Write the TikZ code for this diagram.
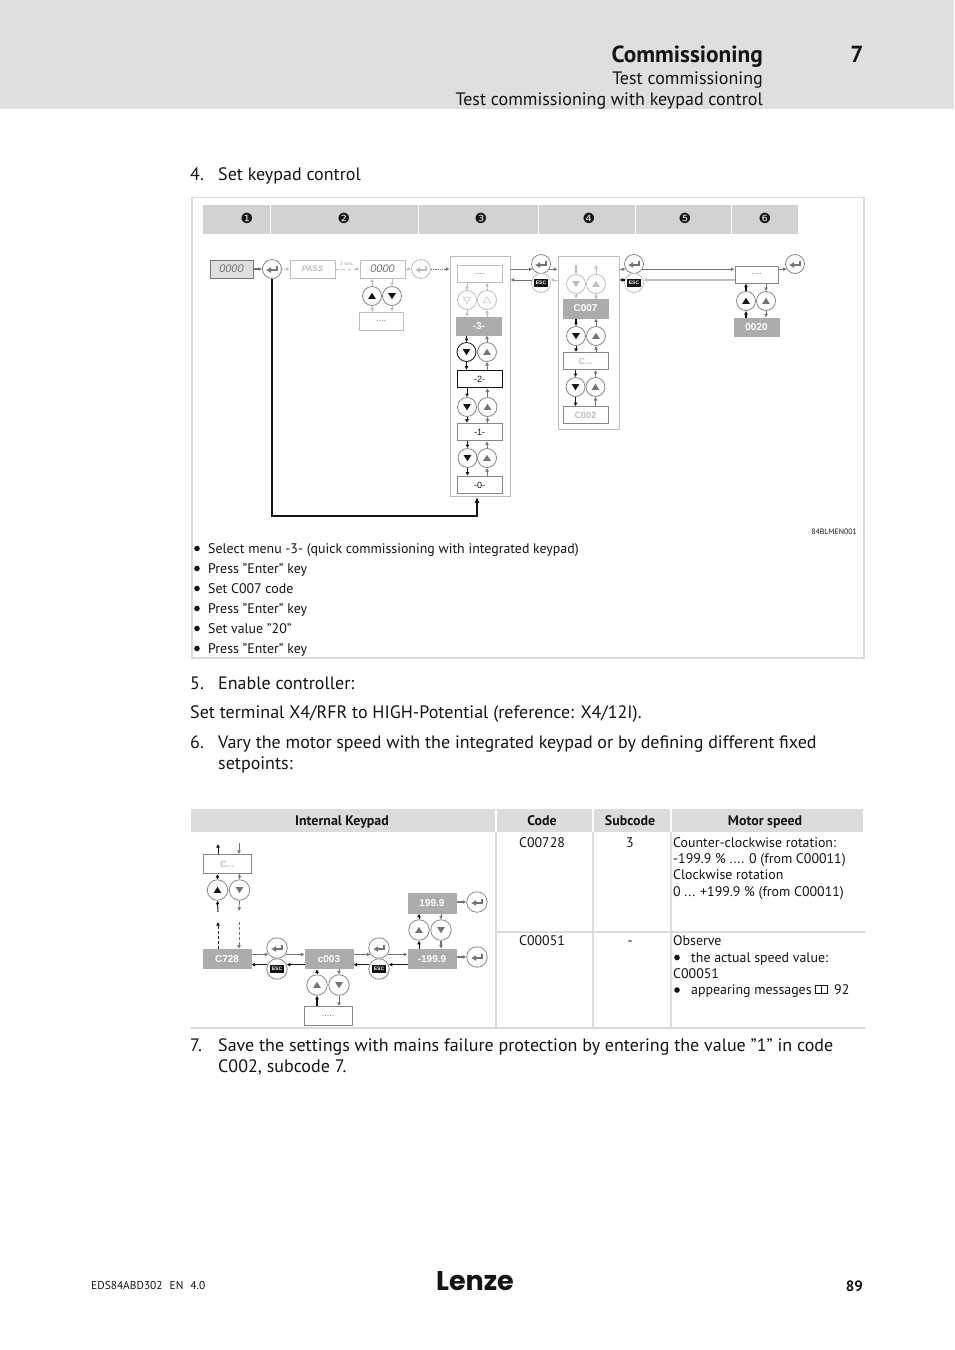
\documentclass[tikz,border=0pt]{standalone}
\usepackage{fontspec}
\setmainfont{PT Sans}
\newfontfamily\diagfont{Liberation Sans}
\newfontfamily\symfont{DejaVu Sans}
\newfontfamily\logofont{Poppins}
\usetikzlibrary{arrows.meta,calc}
\definecolor{ink}{RGB}{20,20,20}
\definecolor{bandgray}{RGB}{223,223,223}
\definecolor{cellgray}{RGB}{208,210,212}
\definecolor{rulegray}{RGB}{220,220,220}
\definecolor{keyline}{RGB}{135,135,135}
\definecolor{fadeline}{RGB}{190,190,190}
\definecolor{valuefill}{RGB}{172,172,172}
\definecolor{arrowgray}{RGB}{115,115,115}

\begin{document}
\begin{tikzpicture}[
  x=1pt,y=-1pt,
  font=\fontsize{18}{20}\selectfont,
  bodytext/.style={anchor=base west, text=ink, inner sep=0pt},
  headtext/.style={anchor=base east, text=ink, inner sep=0pt},
  smalltext/.style={anchor=base west, text=ink, inner sep=0pt,
                    font=\fontsize{13.9}{15}\selectfont},
  celltext/.style={anchor=base, text=ink, inner sep=0pt,
                   font=\fontsize{13.9}{15}\selectfont},
  headcell/.style={anchor=base, text=ink, inner sep=0pt,
                   font=\fontsize{13.9}{15}\bfseries\selectfont},
  dotmark/.style={circle, fill=ink, minimum size=5.6pt, inner sep=0pt},
  stepmark/.style={font=\symfont\fontsize{14}{15}\selectfont, text=ink},
  panelbox/.style={draw=fadeline, line width=1pt},
  showbox/.style={draw=fadeline, line width=1pt, fill=white, inner sep=0pt,
                  minimum width=45pt, minimum height=17.5pt, text=arrowgray,
                  font=\diagfont\fontsize{9}{10}\selectfont},
  showlarge/.style={showbox, minimum width=48pt, minimum height=19pt},
  valuebox/.style={showbox, draw=valuefill, fill=valuefill, text=white,
                   font=\diagfont\fontsize{10}{11}\bfseries\selectfont},
  valuelarge/.style={valuebox, minimum width=48pt, minimum height=19.5pt},
  keybase/.style={circle, draw=keyline, fill=white, line width=0.8pt,
                  minimum size=19pt, inner sep=0pt},
  keylarge/.style={minimum size=20.5pt},
  keyup/.style={keybase, path picture={
    \fill[#1] ([shift={(-3.8,2.8)}]path picture bounding box.center)
      -- ([shift={(3.8,2.8)}]path picture bounding box.center)
      -- ([shift={(0,-3.2)}]path picture bounding box.center) -- cycle;}},
  keydown/.style={keybase, path picture={
    \fill[#1] ([shift={(-3.8,-2.8)}]path picture bounding box.center)
      -- ([shift={(3.8,-2.8)}]path picture bounding box.center)
      -- ([shift={(0,3.2)}]path picture bounding box.center) -- cycle;}},
  keyupopen/.style={keybase, draw=fadeline, path picture={
    \draw[fadeline, line width=0.5pt]
      ([shift={(-3.8,2.8)}]path picture bounding box.center)
      -- ([shift={(3.8,2.8)}]path picture bounding box.center)
      -- ([shift={(0,-3.2)}]path picture bounding box.center) -- cycle;}},
  keydownopen/.style={keybase, draw=fadeline, path picture={
    \draw[fadeline, line width=0.5pt]
      ([shift={(-3.8,-2.8)}]path picture bounding box.center)
      -- ([shift={(3.8,-2.8)}]path picture bounding box.center)
      -- ([shift={(0,3.2)}]path picture bounding box.center) -- cycle;}},
  enterkey/.style={keybase, path picture={
    \draw[#1, line width=1.3pt, -{Latex[length=5pt,width=6pt]}]
      ([shift={(5,-3.5)}]path picture bounding box.center)
      -- ([shift={(5,1)}]path picture bounding box.center)
      -- ([shift={(-6,1)}]path picture bounding box.center);}},
  esckey/.style={keybase, draw=fadeline, text=white,
    font=\diagfont\fontsize{5}{6}\bfseries\selectfont, path picture={
    \fill[ink] ([shift={(-7,-3.6)}]path picture bounding box.center)
      rectangle ([shift={(7,3.6)}]path picture bounding box.center);}},
  flowblack/.style={-{Latex[length=3.6pt,width=4pt]}, draw=ink, line width=1pt},
  flowthick/.style={flowblack, line width=1.5pt},
  flowgray/.style={-{Latex[length=3.6pt,width=4pt]}, draw=arrowgray, line width=0.8pt},
  flowheavy/.style={flowgray, line width=1.5pt},
  flowfade/.style={-{Latex[length=3.6pt,width=4pt]}, draw=fadeline, line width=0.8pt},
  flowfadeheavy/.style={flowfade, line width=1.5pt},
  flowdot/.style={flowfade, densely dotted},
  flowdash/.style={flowfade, dashed}
]
\useasboundingbox (0,0) rectangle (954,1350);
\fill[white] (0,0) rectangle (954,1350);

% Page head
\fill[bandgray] (0,0) rectangle (954,109);
\node[headtext, font=\fontsize{23.3}{25}\bfseries\selectfont] (headTitle) at (763,62) {Commissioning};
\node[anchor=base, inner sep=0pt, text=ink, font=\fontsize{23.3}{25}\bfseries\selectfont] (headNum) at (857,62) {7};
\node[headtext] (headSub) at (763,84) {Test commissioning};
\node[headtext] (headSubSub) at (763,105) {Test commissioning with keypad control};

\node[bodytext] (stepFour) at (190,180) {4.};
\node[bodytext] (stepFourText) at (218,180) {Set keypad control};

% Frame of the first figure
\draw[rulegray, line width=1.5pt] (192,197.5) rectangle (864,658);
\fill[cellgray] (203,205) rectangle (270,234);
\fill[cellgray] (271,205) rectangle (418,234);
\fill[cellgray] (419,205) rectangle (538,234);
\fill[cellgray] (539,205) rectangle (635,234);
\fill[cellgray] (636,205) rectangle (731,234);
\fill[cellgray] (732,205) rectangle (798,234);
\node[stepmark] (markA) at (247,218) {❶};
\node[stepmark] (markB) at (344,218) {❷};
\node[stepmark] (markC) at (481,218) {❸};
\node[stepmark] (markD) at (589,218) {❹};
\node[stepmark] (markE) at (685,218) {❺};
\node[stepmark] (markF) at (765,218) {❻};

% Panels behind the keys
\node[panelbox, minimum width=60pt, minimum height=239.5pt, inner sep=0pt] (menuPanel) at (480,376.5) {};
\node[panelbox, minimum width=61pt, minimum height=172.5pt, inner sep=0pt] (codePanel) at (588.5,343) {};

% Password row
\node[showbox, draw=arrowgray, fill=bandgray, minimum width=43pt, minimum height=18pt,
      font=\diagfont\itshape\fontsize{11}{12}\selectfont] (dispStart) at (231.5,269) {0000};
\node[enterkey=arrowgray] (enterA) at (272,269) {};
\node[showbox, minimum height=18pt, text=fadeline, font=\diagfont\itshape\bfseries\fontsize{8}{9}\selectfont] (dispPass) at (312.5,269) {PASS};
\node[inner sep=0pt, text=fadeline, font=\diagfont\bfseries\fontsize{5}{6}\selectfont] (passTime) at (347,264) {2 sec.};
\node[showbox, minimum height=18pt, font=\diagfont\itshape\fontsize{11}{12}\selectfont] (dispCode) at (382.5,269) {0000};
\node[enterkey=fadeline, draw=fadeline] (enterFade) at (421,269) {};
\node[keyup=ink] (passUp) at (372,296) {};
\node[keydown=ink] (passDown) at (392,296) {};
\node[showbox, minimum width=44pt, minimum height=18pt] (passDots) at (381,321) {....};

\draw[flowheavy] (dispStart) -- (enterA);
\draw[flowdot] (enterA) -- (dispPass);
\draw[flowdash] (dispPass) -- (dispCode);
\draw[flowdot] (dispCode) -- (enterFade);
\draw[flowdot, draw=arrowgray] (enterFade) -- (enterFade -| menuPanel.west);
\draw[flowfade] (passUp.north) -- (passUp.north |- dispCode.south);
\draw[flowfade] (passDown.north |- dispCode.south) -- (passDown.north);
\draw[flowfade] (passUp.south |- passDots.north) -- (passUp.south);
\draw[flowfade] (passDown.south) -- (passDown.south |- passDots.north);

% Menu column
\node[showbox, minimum height=16.5pt] (menuDots) at (479.5,274) {....};
\node[keydownopen] (menuFadeDown) at (467,300) {};
\node[keyupopen] (menuFadeUp) at (487,300) {};
\node[valuebox, minimum height=18pt] (menuThree) at (479,326) {-3-};
\node[keydown=ink, draw=ink] (menuDownA) at (466.5,352) {};
\node[keyup=arrowgray] (menuUpA) at (487,352) {};
\node[showbox, draw=ink, text=ink] (menuTwo) at (479.5,379) {-2-};
\node[keydown=ink] (menuDownB) at (467,407) {};
\node[keyup=arrowgray] (menuUpB) at (487.5,407) {};
\node[showbox, draw=keyline, text=ink] (menuOne) at (479.5,432) {-1-};
\node[keydown=ink] (menuDownC) at (467.5,458) {};
\node[keyup=arrowgray] (menuUpC) at (487,458) {};
\node[showbox, draw=keyline, text=ink] (menuZero) at (479.5,485) {-0-};

\draw[flowfade] (menuFadeDown.north |- menuDots.south) -- (menuFadeDown.north);
\draw[flowfade] (menuFadeDown.south) -- (menuFadeDown.south |- menuThree.north);
\draw[flowfade] (menuFadeUp.north) -- (menuFadeUp.north |- menuDots.south);
\draw[flowfade] (menuFadeUp.south |- menuThree.north) -- (menuFadeUp.south);
\draw[flowthick] (menuDownA.north |- menuThree.south) -- (menuDownA.north);
\draw[flowthick] (menuDownA.south) -- (menuDownA.south |- menuTwo.north);
\draw[flowgray] (menuUpA.north) -- (menuUpA.north |- menuThree.south);
\draw[flowgray] (menuUpA.south |- menuTwo.north) -- (menuUpA.south);
\draw[flowblack] (menuDownB.north |- menuTwo.south) -- (menuDownB.north);
\draw[flowblack] (menuDownB.south) -- (menuDownB.south |- menuOne.north);
\draw[flowgray] (menuUpB.north) -- (menuUpB.north |- menuTwo.south);
\draw[flowgray] (menuUpB.south |- menuOne.north) -- (menuUpB.south);
\draw[flowblack] (menuDownC.north |- menuOne.south) -- (menuDownC.north);
\draw[flowblack] (menuDownC.south) -- (menuDownC.south |- menuZero.north);
\draw[flowgray] (menuUpC.north) -- (menuUpC.north |- menuOne.south);
\draw[flowgray] (menuUpC.south |- menuZero.north) -- (menuUpC.south);

% Return path to the bottom of the menu
\coordinate (loopCorner) at (477,516);
\draw[flowthick, line width=1.3pt, -{Latex[length=6pt,width=5pt]}] (enterA.south) |- (loopCorner) -- (loopCorner |- menuPanel.south);

% Code column
\node[enterkey=arrowgray] (enterB) at (541,264) {};
\node[esckey] (escB) at (541,283) {ESC};
\coordinate (codeFadeIn) at (576,265);
\coordinate (codeFadeOut) at (596,265);
\node[keydown=fadeline, draw=fadeline] (codeFadeDown) at (576,284) {};
\node[keyup=fadeline, draw=fadeline] (codeFadeUp) at (596,284) {};
\node[valuebox, minimum height=19pt] (codeSeven) at (585.5,308.5) {C007};
\node[keydown=ink] (codeDownA) at (576,336) {};
\node[keyup=arrowgray] (codeUpA) at (596,336) {};
\node[showbox, draw=keyline, minimum height=17pt, text=fadeline, font=\diagfont\fontsize{9}{10}\bfseries\selectfont] (codeDots) at (585.5,361) {C...};
\node[keydown=ink] (codeDownB) at (575.5,387) {};
\node[keyup=arrowgray] (codeUpB) at (595.5,387) {};
\node[showbox, draw=keyline, minimum height=16.5pt, text=fadeline, font=\diagfont\fontsize{9}{10}\bfseries\selectfont] (codeTwo) at (585.5,415) {C002};

\draw[flowfadeheavy] (codeFadeIn) -- (codeFadeDown.north);
\draw[flowfade] (codeFadeUp.north) -- (codeFadeOut);
\draw[flowfade] (codeFadeDown.south) -- (codeFadeDown.south |- codeSeven.north);
\draw[flowfade] (codeFadeUp.south |- codeSeven.north) -- (codeFadeUp.south);
\draw[flowthick] (codeDownA.north |- codeSeven.south) -- (codeDownA.north);
\draw[flowblack] (codeDownA.south) -- (codeDownA.south |- codeDots.north);
\draw[flowgray] (codeUpA.north) -- (codeUpA.north |- codeSeven.south);
\draw[flowgray] (codeUpA.south |- codeDots.north) -- (codeUpA.south);
\draw[flowblack] (codeDownB.north |- codeDots.south) -- (codeDownB.north);
\draw[flowblack] (codeDownB.south) -- (codeDownB.south |- codeTwo.north);
\draw[flowgray] (codeUpB.north) -- (codeUpB.north |- codeDots.south);
\draw[flowgray] (codeUpB.south |- codeTwo.north) -- (codeUpB.south);

\draw[flowheavy] (menuPanel.east |- enterB.212) -- (enterB.212);
\draw[flowheavy] (enterB.328) -- (enterB.328 -| codePanel.west);
\draw[flowfade] (codePanel.west |- escB.18) -- (escB.18);
\draw[flowgray, line width=0.6pt] (escB.162) -- (escB.162 -| menuPanel.east);

% Value column
\node[enterkey=arrowgray] (enterC) at (634,264) {};
\node[esckey] (escC) at (634,283) {ESC};
\node[showbox, draw=keyline, minimum width=43pt, minimum height=17pt] (valueDots) at (756.5,274.5) {....};
\node[enterkey=arrowgray] (enterD) at (795,264) {};
\node[keyup=ink] (valueUpA) at (746,301) {};
\node[keyup=arrowgray] (valueUpB) at (766,301) {};
\node[valuebox, minimum height=18pt] (valueBox) at (756.5,327) {0020};

\draw[flowheavy] (codePanel.east |- enterC.212) -- (enterC.212);
\draw[flowgray, line width=1pt] (enterC.328) -- (enterC.328 -| valueDots.west);
\draw[flowfadeheavy] (valueDots.west |- escC.18) -- (escC.18);
\draw[flowthick] (escC.162) -- (escC.162 -| codePanel.east);
\draw[flowheavy] (valueDots.east |- enterD.212) -- (enterD.212);
\draw[flowthick] (valueUpA.north) -- (valueUpA.north |- valueDots.south);
\draw[flowthick] (valueUpA.south |- valueBox.north) -- (valueUpA.south);
\draw[flowgray] (valueUpB.north |- valueDots.south) -- (valueUpB.north);
\draw[flowgray] (valueUpB.south) -- (valueUpB.south |- valueBox.north);

\node[anchor=base east, inner sep=0pt, text=ink, font=\fontsize{7.8}{8}\selectfont] (figCode) at (857,534) {84BLMEN001};

% Legend of the figure
\node[dotmark] (dotA) at (197,548.5) {};
\node[smalltext] (legA) at (208,553) {Select menu -3- (quick commissioning with integrated keypad)};
\node[dotmark] (dotB) at (197,568.5) {};
\node[smalltext] (legB) at (208,573) {Press ”Enter” key};
\node[dotmark] (dotC) at (197,588.5) {};
\node[smalltext] (legC) at (208,593) {Set C007 code};
\node[dotmark] (dotD) at (197,608.5) {};
\node[smalltext] (legD) at (208,613) {Press ”Enter” key};
\node[dotmark] (dotE) at (197,628.5) {};
\node[smalltext] (legE) at (208,633) {Set value ”20”};
\node[dotmark] (dotF) at (197,648.5) {};
\node[smalltext] (legF) at (208,653) {Press ”Enter” key};

% Steps between the figures
\node[bodytext] (stepFive) at (190,689) {5.};
\node[bodytext] (stepFiveText) at (218,689) {Enable controller:};
\node[bodytext] (stepFiveNote) at (190,718) {Set terminal X4/RFR to HIGH-Potential (reference: X4/12I).};
\node[bodytext] (stepSix) at (190,748) {6.};
\node[bodytext] (stepSixA) at (218,748) {Vary the motor speed with the integrated keypad or by defining different fixed};
\node[bodytext] (stepSixB) at (218,769) {setpoints:};

% Table
\fill[rulegray] (191,809) rectangle (495,832);
\fill[rulegray] (497,809) rectangle (592,832);
\fill[rulegray] (594,809) rectangle (670,832);
\fill[rulegray] (672,809) rectangle (863,832);
\draw[rulegray, line width=1.5pt] (496,832) -- (496,1028);
\draw[rulegray, line width=1.5pt] (593,832) -- (593,1028);
\draw[rulegray, line width=1.5pt] (671,832) -- (671,1028);
\draw[rulegray, line width=1.5pt] (496,932) -- (865,932);
\draw[rulegray, line width=1.5pt] (191,1028) -- (865,1028);
\node[headcell] (thKeypad) at (342,825) {Internal Keypad};
\node[headcell] (thCode) at (542,825) {Code};
\node[headcell] (thSub) at (630,825) {Subcode};
\node[headcell] (thSpeed) at (765,825) {Motor speed};
\node[celltext] (codeRowA) at (542,847) {C00728};
\node[celltext] (subRowA) at (630,847) {3};
\node[smalltext] (speedA) at (673,847) {Counter-clockwise rotation:};
\node[smalltext] (speedB) at (673,863) {-199.9 \% .... 0 (from C00011)};
\node[smalltext] (speedC) at (673,879) {Clockwise rotation};
\node[smalltext] (speedD) at (673,896) {0 ... +199.9 \% (from C00011)};
\node[celltext] (codeRowB) at (542,945) {C00051};
\node[celltext] (subRowB) at (630,945) {-};
\node[smalltext] (obsA) at (673,945) {Observe};
\node[dotmark] (dotG) at (677,957.5) {};
\node[smalltext] (obsB) at (691,962) {the actual speed value:};
\node[smalltext] (obsC) at (673,978) {C00051};
\node[dotmark] (dotH) at (677,990) {};
\node[smalltext] (obsD) at (691,994) {appearing messages};
\draw[ink, line width=0.7pt] (815,985) rectangle (821,993.5) (821,985) rectangle (827,993.5);
\node[smalltext] (obsPage) at (834,994) {92};

% Keypad figure in the table
\node[showlarge, draw=keyline, text=fadeline, font=\diagfont\fontsize{9}{10}\bfseries\selectfont] (kpDots) at (227,864) {C...};
\coordinate (kpOutUp) at (218,844);
\coordinate (kpInDown) at (239,843);
\node[keyup=ink, keylarge] (kpUp) at (217.5,890) {};
\node[keydown=arrowgray, keylarge] (kpDown) at (239.5,890) {};
\coordinate (kpGapUp) at (218,912);
\coordinate (kpGapDown) at (239,911);
\coordinate (kpFarUp) at (218,922);
\coordinate (kpFarDown) at (239,922);
\node[valuelarge] (kpCode) at (227,959) {C728};
\node[enterkey=arrowgray, keylarge] (kpEnterA) at (277,948) {};
\node[esckey, keylarge, draw=keyline] (kpEscA) at (277,969) {ESC};
\node[valuelarge] (kpSub) at (329,959) {c003};
\node[enterkey=arrowgray, keylarge] (kpEnterB) at (379,948) {};
\node[esckey, keylarge, draw=keyline] (kpEscB) at (379,969) {ESC};
\node[valuelarge] (kpMin) at (432,959) {-199.9};
\node[valuelarge] (kpMax) at (432,903.5) {199.9};
\node[keyup=arrowgray, keylarge] (kpMinUp) at (419,930) {};
\node[keydown=arrowgray, keylarge] (kpMinDown) at (441,930) {};
\node[enterkey=arrowgray, keylarge] (kpEnterMax) at (477,902) {};
\node[enterkey=arrowgray, keylarge] (kpEnterMin) at (477,957) {};
\node[keyup=arrowgray, keylarge] (kpSubUp) at (317,985) {};
\node[keydown=arrowgray, keylarge] (kpSubDown) at (339,985) {};
\node[showlarge, draw=keyline] (kpSubDots) at (328,1016) {.....};

\draw[flowblack] (kpDots.north -| kpOutUp) -- (kpOutUp);
\draw[flowgray] (kpInDown) -- (kpInDown |- kpDots.north);
\draw[flowblack] (kpUp.north) -- (kpUp.north |- kpDots.south);
\draw[flowgray] (kpDown.north |- kpDots.south) -- (kpDown.north);
\draw[flowblack] (kpGapUp) -- (kpUp.south);
\draw[flowgray] (kpDown.south) -- (kpGapDown);
\draw[flowblack, densely dashed, line width=0.8pt] (kpFarUp |- kpCode.north) -- (kpFarUp);
\draw[flowgray, densely dashed] (kpFarDown) -- (kpFarDown |- kpCode.north);
\draw[flowheavy] (kpCode.east |- kpEnterA.217) -- (kpEnterA.217);
\draw[flowheavy] (kpEnterA.323) -- (kpEnterA.323 -| kpSub.west);
\draw[flowblack] (kpSub.west |- kpEscA.24) -- (kpEscA.24);
\draw[flowblack] (kpEscA.156) -- (kpEscA.156 -| kpCode.east);
\draw[flowheavy] (kpSub.east |- kpEnterB.217) -- (kpEnterB.217);
\draw[flowheavy] (kpEnterB.323) -- (kpEnterB.323 -| kpMin.west);
\draw[flowthick] (kpMin.west |- kpEscB.24) -- (kpEscB.24);
\draw[flowthick] (kpEscB.156) -- (kpEscB.156 -| kpSub.east);
\draw[flowheavy] (kpMax.east |- kpEnterMax.west) -- (kpEnterMax.west);
\draw[flowheavy] (kpMin.east |- kpEnterMin.west) -- (kpEnterMin.west);
\draw[flowblack] (kpMinUp.south |- kpMin.north) -- (kpMinUp.south);
\draw[flowblack] (kpMinUp.north) -- (kpMinUp.north |- kpMax.south);
\draw[flowgray] (kpMinDown.north |- kpMax.south) -- (kpMinDown.north);
\draw[flowheavy] (kpMinDown.south) -- (kpMinDown.south |- kpMin.north);
\draw[flowblack] (kpSubUp.north) -- (kpSubUp.north |- kpSub.south);
\draw[flowthick] (kpSubUp.south |- kpSubDots.north) -- (kpSubUp.south);
\draw[flowgray] (kpSubDown.north |- kpSub.south) -- (kpSubDown.north);
\draw[flowgray] (kpSubDown.south) -- (kpSubDown.south |- kpSubDots.north);

\node[bodytext] (stepSeven) at (190,1051) {7.};
\node[bodytext] (stepSevenA) at (218,1051) {Save the settings with mains failure protection by entering the value ”1” in code};
\node[bodytext] (stepSevenB) at (218,1072) {C002, subcode 7.};

% Page foot
\node[anchor=base west, inner sep=0pt, text=ink, font=\fontsize{11.4}{12}\selectfont] (footDoc) at (91,1289) {EDS84ABD302\hspace{7pt}EN\hspace{7pt}4.0};
\node[anchor=base, inner sep=0pt, text=ink, font=\logofont\fontsize{27}{29}\bfseries\selectfont] (footLogo) at (475,1290) {Lenze};
\node[anchor=base east, inner sep=0pt, text=ink, font=\fontsize{15}{16}\bfseries\selectfont] (footPage) at (863,1291) {89};
\end{tikzpicture}
\end{document}
